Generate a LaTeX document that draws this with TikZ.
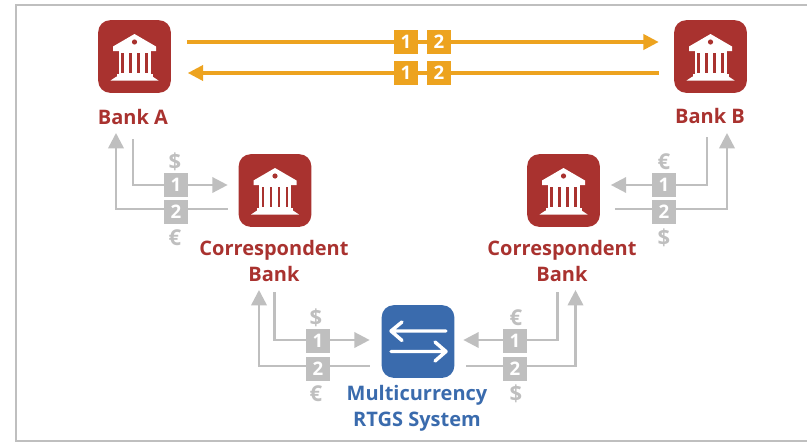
\documentclass[tikz,border=0pt]{standalone}
\usepackage{fontspec}
\setmainfont{Open Sans}
\usetikzlibrary{positioning, calc, arrows.meta}
\definecolor{bankred}{HTML}{A9322F}
\definecolor{rtgsblue}{HTML}{3A6BAD}
\definecolor{msgorange}{HTML}{EDA31F}
\definecolor{flowgray}{HTML}{BFBFBF}

\begin{document}
\begin{tikzpicture}[x=0.75pt, y=-0.75pt,
    icon/.style={rectangle, rounded corners=9pt, minimum size=54.5pt, inner sep=0pt, outer sep=0pt, fill=#1},
    label/.style={font=\fontsize{15}{19.5}\selectfont\bfseries, text=#1, align=center, inner sep=0pt},
    msg/.style={rectangle, minimum size=18pt, inner sep=0pt, fill=#1, text=white, font=\fontsize{14}{15}\selectfont\bfseries},
    cur/.style={font=\fontsize{16.5}{18}\selectfont\bfseries, text=flowgray, inner sep=0pt},
    swift/.style={draw=msgorange, line width=2.3pt, -{Triangle[length=11.5pt, width=11.5pt]}},
    flow/.style={draw=flowgray, line width=1.9pt, -{Triangle[length=11.5pt, width=11.5pt]}},
    bankicon/.pic={
      \fill[white] (0,-22.5) -- (21.5,-10) -- (21.5,-5.5) -- (-21.5,-5.5) -- (-21.5,-10) -- cycle;
      \fill[white] (-16,-5.5) rectangle (16,17);
      \fill[white] (-18,17) rectangle (18,20);
      \fill[white] (-18,20) -- (18,20) -- (24,24) -- (-24,24) -- cycle;
      \fill[bankred] (0,-14.5) circle (2.6);
      \foreach \i in {-12,-4,4,12}
        \fill[bankred] (\i-1.4,-3.5) rectangle (\i+1.4,16.5);
    }]

  \useasboundingbox (0,0) rectangle (807,443);
  \draw[flowgray, line width=1.7pt] (807,5) -- (16,5) -- (16,441) -- (807,441);

  \node[icon=bankred] (bankA) at (134.5,56.5) {};
  \node[icon=bankred] (bankB) at (710.5,56.5) {};
  \node[icon=bankred] (corrL) at (275,190.5) {};
  \node[icon=bankred] (corrR) at (563.5,190.5) {};
  \node[icon=rtgsblue] (rtgs) at (418,341.5) {};
  \pic at (bankA) {bankicon};
  \pic at (bankB) {bankicon};
  \pic at (corrL) {bankicon};
  \pic at (corrR) {bankicon};

  \draw[white, line width=2.6pt, line cap=round, line join=round] (446,331) -- (391,331) (402,322) -- (391,331) -- (402,340.5);
  \draw[white, line width=2.6pt, line cap=round, line join=round] (391,351.5) -- (446,351.5) (435,342) -- (446,351.5) -- (435,361);

  \node[label=bankred] (labA) at (133,116.5) {Bank A};
  \node[label=bankred] (labB) at (710,116) {Bank B};
  \node[label=bankred] (labCL) at (274,261) {Correspondent\\Bank};
  \node[label=bankred] (labCR) at (562,261) {Correspondent\\Bank};
  \node[label=rtgsblue] (labR) at (417,408) {Multicurrency\\RTGS System};

  \draw[swift] ($(bankA.east)+(16,-14.5)$) coordinate (ab1) -- ($(bankB.west)+(-15.5,-14.5)$) coordinate (ab2);
  \draw[swift] ($(bankB.west)+(-15.5,16.5)$) coordinate (ba1) -- ($(bankA.east)+(17,16.5)$) coordinate (ba2);

  \coordinate (a1) at (133,139);
  \coordinate (a2) at (116,133);
  \coordinate (b1) at (707,137);
  \coordinate (b2) at (727,133);
  \coordinate (cl1) at (274.5,292);
  \coordinate (cl2) at (259,290);
  \coordinate (cr1) at (557.5,292);
  \coordinate (cr2) at (575.5,290);

  \draw[flow] (a1) |- ($(corrL.west)+(-11,-5.5)$);
  \draw[flow] ($(corrL.west)+(-11,18.5)$) -| (a2);
  \draw[flow] (b1) |- ($(corrR.east)+(11,-5.5)$);
  \draw[flow] ($(corrR.east)+(15,18.5)$) -| (b2);
  \draw[flow] (cl1) |- ($(rtgs.west)+(-12,-1.5)$);
  \draw[flow] ($(rtgs.west)+(-12,24.5)$) -| (cl2);
  \draw[flow] (cr1) |- ($(rtgs.east)+(9,-1.5)$);
  \draw[flow] ($(rtgs.east)+(12,24.5)$) -| (cr2);

  \node[msg=msgorange] (m1) at (406,41.5) {1};
  \node[msg=msgorange] (m2) at (439,41.5) {2};
  \node[msg=msgorange] (m3) at (406,73) {1};
  \node[msg=msgorange] (m4) at (439,73) {2};

  \node[msg=flowgray] (al1) at (176,185) {1};
  \node[msg=flowgray] (al2) at (176,212) {2};
  \node[msg=flowgray] (br1) at (664,185) {1};
  \node[msg=flowgray] (br2) at (664,212) {2};
  \node[msg=flowgray] (cl3) at (318,341) {1};
  \node[msg=flowgray] (cl4) at (318,369) {2};
  \node[msg=flowgray] (cr3) at (515,341) {1};
  \node[msg=flowgray] (cr4) at (515,369) {2};

  \node[cur] (s1) at (175,162) {\$};
  \node[cur] (s2) at (175,238) {€};
  \node[cur] (s3) at (664,162) {€};
  \node[cur] (s4) at (664,238) {\$};
  \node[cur] (s5) at (316,318) {\$};
  \node[cur] (s6) at (316,394) {€};
  \node[cur] (s7) at (516,318) {€};
  \node[cur] (s8) at (516,394) {\$};
\end{tikzpicture}
\end{document}
